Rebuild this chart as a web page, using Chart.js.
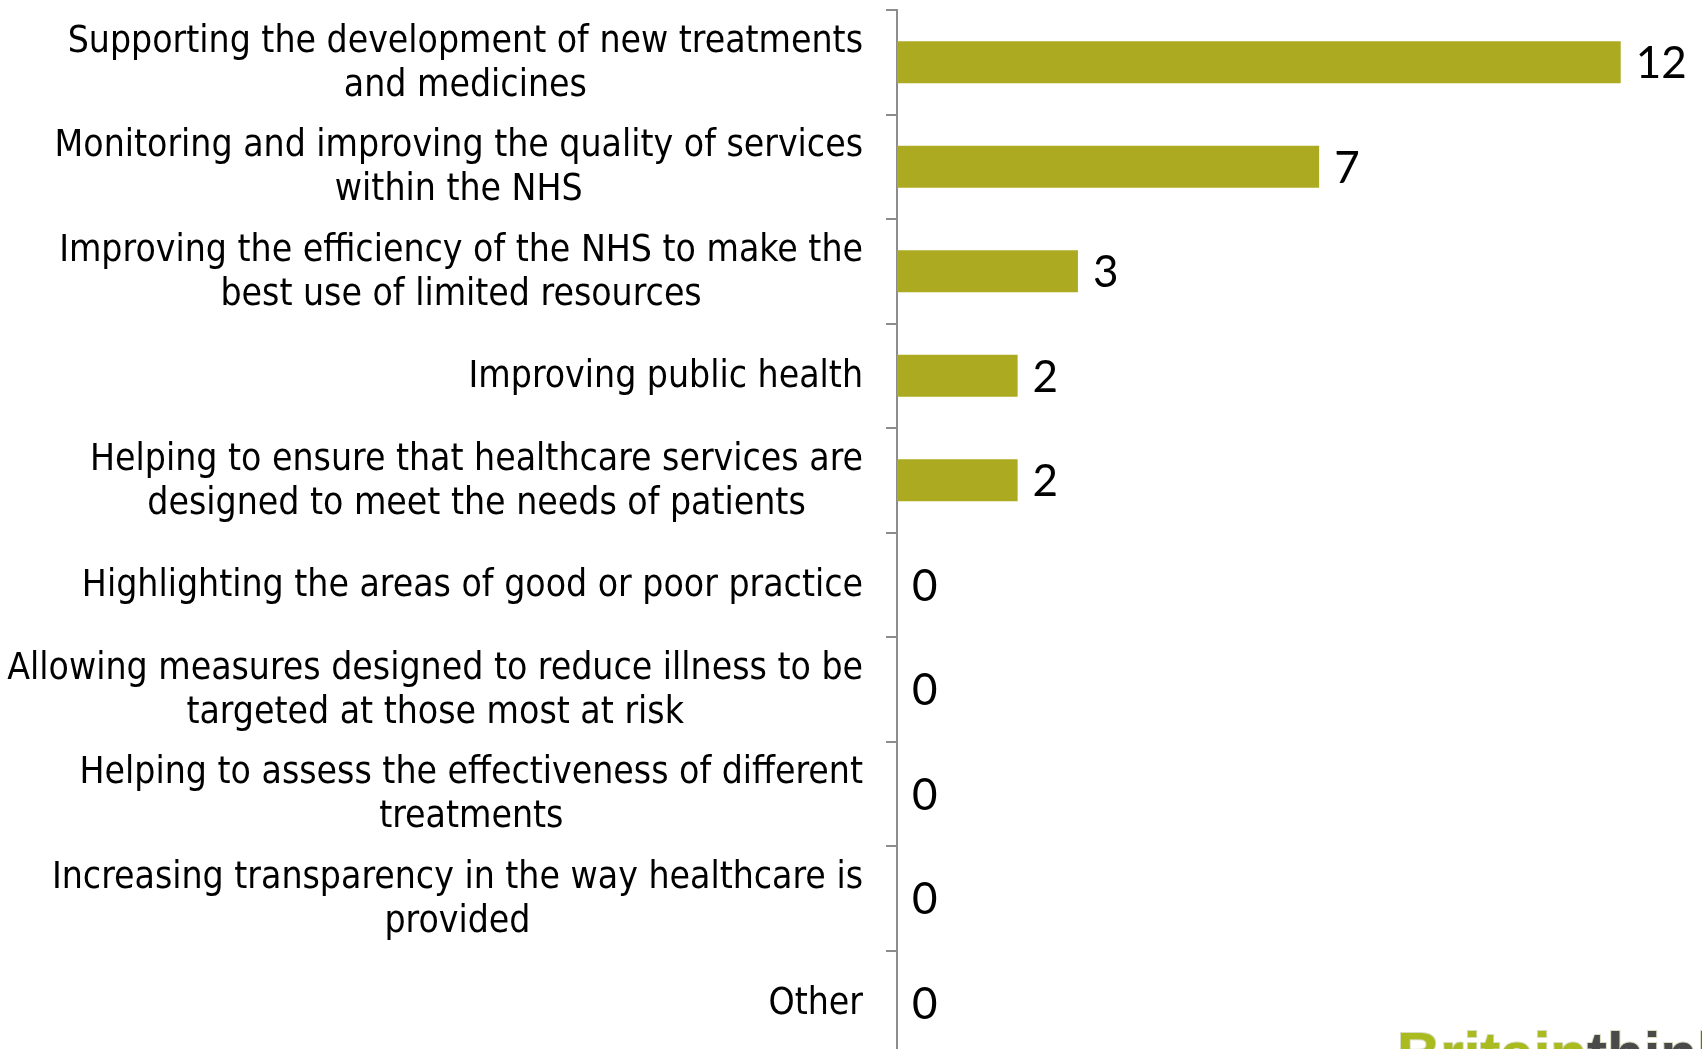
<!DOCTYPE html>
<html>
<head>
<meta charset="utf-8">
<title>Uses of health data</title>
<script src="https://cdn.jsdelivr.net/npm/chart.js@4.4.1/dist/chart.umd.min.js"></script>
<style>
  html, body { margin: 0; padding: 0; background: #fff; overflow: hidden; }
  #wrap { position: relative; width: 1702px; height: 1049px; overflow: hidden; }
  canvas { display: block; }
  #brand {
    position: absolute; left: 1397px; top: 1024px;
    font: bold 60px "Liberation Sans", Arial, sans-serif; line-height: 1;
    white-space: nowrap; -webkit-text-stroke: 2px #d8dcc0;
    paint-order: stroke fill;
  }
  #brand .g { color: #a9bb1f; }
  #brand .d { color: #4a4a4a; }
</style>
</head>
<body>
<div id="wrap">
  <canvas id="usesChart" width="1702" height="1060"></canvas>
  <div id="brand"><span class="g">Britain</span><span class="d">thinks</span></div>
</div>
<script>
// answer options, each split into the lines it is printed on
const categories = [
  ['Supporting the development of new treatments', 'and medicines'],
  ['Monitoring and improving the quality of services', 'within the NHS'],
  ['Improving the efficiency of the NHS to make the', 'best use of limited resources'],
  ['Improving public health'],
  ['Helping to ensure that healthcare services are', 'designed to meet the needs of patients'],
  ['Highlighting the areas of good or poor practice'],
  ['Allowing measures designed to reduce illness to be', 'targeted at those most at risk'],
  ['Helping to assess the effectiveness of different', 'treatments'],
  ['Increasing transparency in the way healthcare is', 'provided'],
  ['Other']
];
const responses = [12, 7, 3, 2, 2, 0, 0, 0, 0, 0];

const barColor = '#abaa21';
const axisColor = '#8c8c8c';
const labelFont = '37px "DejaVu Sans Condensed", "Liberation Sans Narrow", Roboto, sans-serif';
const valueFont = '44px Lato, "Liberation Sans", sans-serif';

// category names: block right-aligned against the axis, lines centred within it
const wrappedLabels = {
  id: 'wrappedLabels',
  afterDraw(chart) {
    const ctx = chart.ctx;
    const yScale = chart.scales.y;
    const right = yScale.right - 34;
    const lineHeight = 44;
    ctx.save();
    ctx.font = labelFont;
    ctx.fillStyle = '#000';
    ctx.textAlign = 'center';
    ctx.textBaseline = 'middle';
    categories.forEach((lines, i) => {
      const cy = yScale.getPixelForTick(i) + 2;
      const widest = Math.max(...lines.map(l => ctx.measureText(l).width));
      const cx = right - widest / 2;
      const top = cy - (lines.length - 1) * lineHeight / 2;
      lines.forEach((line, j) => ctx.fillText(line, cx, top + j * lineHeight));
    });
    ctx.restore();
  }
};

// counts printed just past the end of each bar
const valueLabels = {
  id: 'valueLabels',
  afterDatasetsDraw(chart) {
    const ctx = chart.ctx;
    const meta = chart.getDatasetMeta(0);
    ctx.save();
    ctx.font = valueFont;
    ctx.fillStyle = '#000';
    ctx.textAlign = 'left';
    ctx.textBaseline = 'middle';
    meta.data.forEach((bar, i) => {
      ctx.fillText(String(responses[i]), bar.x + 15, bar.y + 2);
    });
    ctx.restore();
  }
};

new Chart(document.getElementById('usesChart'), {
  type: 'bar',
  data: {
    labels: categories,
    datasets: [{
      data: responses,
      backgroundColor: barColor,
      borderWidth: 0,
      barPercentage: 0.8,
      categoryPercentage: 0.5
    }]
  },
  options: {
    indexAxis: 'y',
    responsive: false,
    animation: false,
    layout: { padding: { top: 10, right: 21, bottom: 5, left: 0 } },
    plugins: {
      legend: { display: false },
      tooltip: { enabled: false }
    },
    scales: {
      x: {
        display: false,
        min: 0,
        max: 13
      },
      y: {
        afterFit(scale) { scale.width = 897; },
        ticks: { display: false },
        grid: {
          drawOnChartArea: false,
          drawTicks: true,
          tickLength: 11,
          color: axisColor,
          lineWidth: 2
        },
        border: { color: axisColor, width: 2 }
      }
    }
  },
  plugins: [wrappedLabels, valueLabels]
});
</script>
</body>
</html>
